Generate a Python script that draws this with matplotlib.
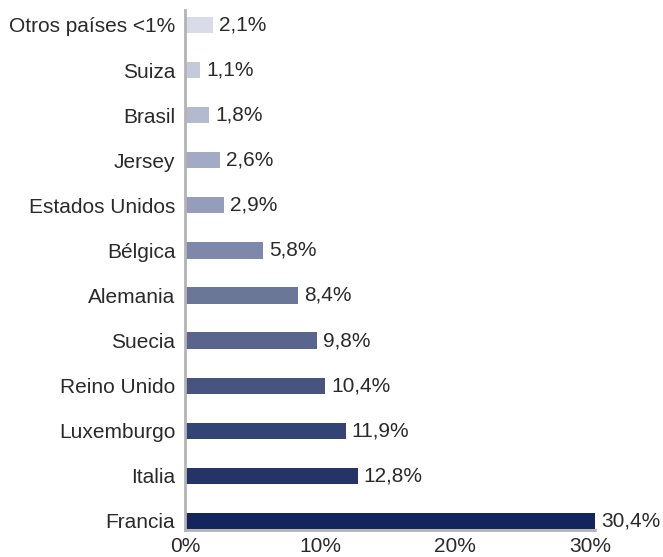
import matplotlib.pyplot as plt
from matplotlib.ticker import FuncFormatter

plt.rcParams['font.family'] = ['Liberation Sans', 'DejaVu Sans']

# datos (de abajo hacia arriba)
paises = ['Francia', 'Italia', 'Luxemburgo', 'Reino Unido', 'Suecia', 'Alemania',
          'Bélgica', 'Estados Unidos', 'Jersey', 'Brasil', 'Suiza', 'Otros países <1%']
valores = [30.4, 12.8, 11.9, 10.4, 9.8, 8.4, 5.8, 2.9, 2.6, 1.8, 1.1, 2.1]
colores = ['#13255c', '#243467', '#334373', '#47547f', '#59658c', '#6b7799',
           '#7d88aa', '#959dbb', '#a3aac5', '#b3b9cf', '#c5cadb', '#d9dce8']

fig = plt.figure(figsize=(6.63, 5.57), dpi=100)
ax = fig.add_axes([0.279, 0.0485, 0.619, 0.9335])

y = list(range(len(paises)))
ax.barh(y, valores, height=0.36, color=colores, edgecolor='none')

for yi, v in zip(y, valores):
    ax.text(v + 0.45, yi, f'{v:.1f}%'.replace('.', ','), va='center', ha='left',
            fontsize=15, color='#2a2a2a')

ax.set_yticks(y)
ax.set_yticklabels(paises)
ax.set_xticks([0, 10, 20, 30])
ax.xaxis.set_major_formatter(FuncFormatter(lambda x, p: f'{x:.0f}%'))
ax.set_xlim(0, 30.4)
ax.set_ylim(-0.2, len(paises) - 1 + 0.33)

ax.tick_params(axis='both', length=0, labelsize=15, colors='#2a2a2a')
ax.tick_params(axis='y', pad=7)
ax.tick_params(axis='x', pad=5)
for s in ['top', 'right']:
    ax.spines[s].set_visible(False)
for s in ['left', 'bottom']:
    ax.spines[s].set_color('#b3b3b3')
    ax.spines[s].set_linewidth(2)

fig.savefig('out.png', dpi=100)
